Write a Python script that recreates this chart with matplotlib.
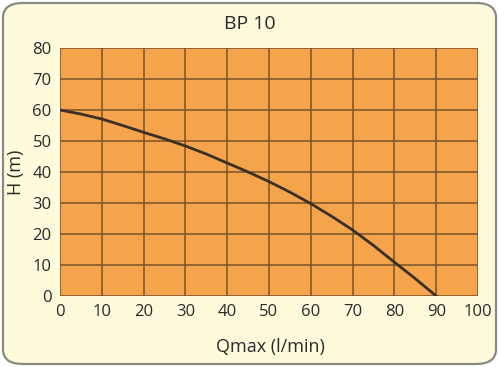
import matplotlib
matplotlib.use("Agg")
import matplotlib.pyplot as plt
from matplotlib.patches import FancyBboxPatch

# pump curve
flow = [0, 5, 10, 15, 20, 25, 30, 35, 40, 45, 50, 55, 60, 65, 70, 75, 80, 85, 90]
head = [60, 58.7, 57.1, 55.0, 52.8, 50.7, 48.4, 45.8, 42.9, 40.0, 36.9,
        33.5, 29.8, 25.7, 21.3, 16.3, 10.9, 5.6, 0]

x_ticks = [0, 10, 20, 30, 40, 50, 60, 70, 80, 90, 100]
y_ticks = [0, 10, 20, 30, 40, 50, 60, 70, 80]

plt.rcParams['font.family'] = ['Open Sans', 'DejaVu Sans']

W, H = 499, 367
fig = plt.figure(figsize=(W / 100, H / 100), dpi=100)
fig.patch.set_facecolor("white")

# rounded cream panel behind everything
panel = FancyBboxPatch((3 / W, 3 / H), 1 - 6 / W, 1 - 6 / H,
                       boxstyle="round,pad=0,rounding_size=0.04",
                       transform=fig.transFigure, facecolor="#fefadc",
                       edgecolor="#8a8a80", linewidth=1.6, zorder=-5)
fig.patches.append(panel)

ax = fig.add_axes([60 / W, 1 - 296 / H, (478 - 60) / W, (296 - 48) / H])
ax.set_facecolor("#f5a44c")
ax.plot(flow, head, color="#3a3028", linewidth=2)

ax.set_xlim(0, 100)
ax.set_ylim(0, 80)
ax.set_xticks(x_ticks)
ax.set_yticks(y_ticks)
ax.grid(True, color="#7a5428", linewidth=1.1)
ax.set_axisbelow(True)
for s in ax.spines.values():
    s.set_visible(False)
ax.tick_params(length=0, labelsize=12, colors="#2a2a2a", pad=6)

fig.text(250 / W, 1 - 24 / H, "BP 10", ha="center", va="center",
         fontsize=14, color="#2a2a2a")
fig.text(270 / W, 1 - 347 / H, "Qmax (l/min)", ha="center", va="center",
         fontsize=13, color="#2a2a2a")
fig.text(16 / W, 1 - 172 / H, "H (m)", ha="center", va="center",
         rotation=90, fontsize=13, color="#2a2a2a")

fig.savefig("out.png", dpi=100, facecolor=fig.get_facecolor())
